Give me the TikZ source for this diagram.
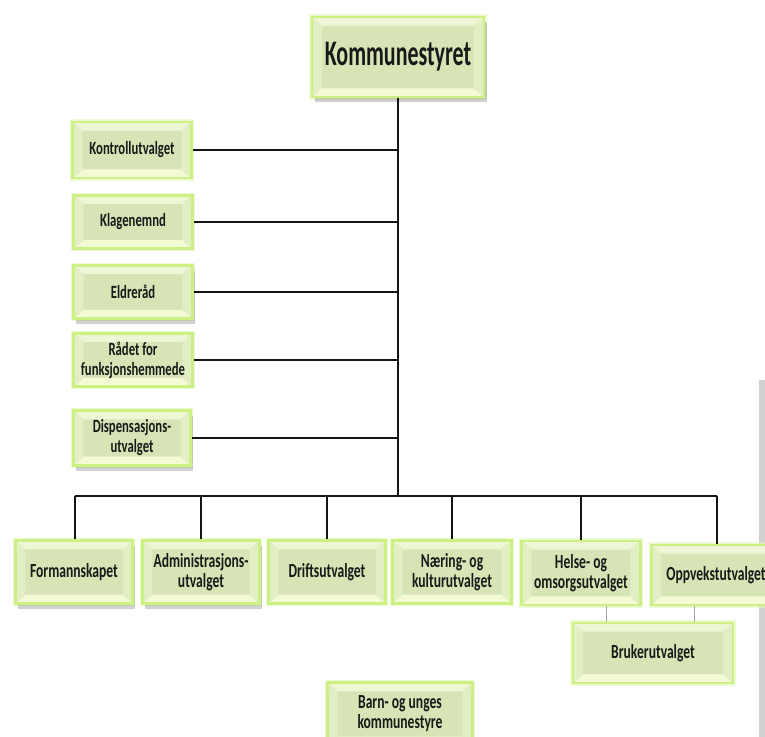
\documentclass[tikz,border=0pt]{standalone}
\usepackage{fontspec}
\setmainfont{Carlito}
\newfontfamily\condf[FakeStretch=0.68]{Carlito}
\newfontfamily\condbig[FakeStretch=0.61]{Carlito}
\usetikzlibrary{shadows}
\definecolor{glow}{RGB}{204,240,130}
\definecolor{basegreen}{RGB}{214,228,182}
\definecolor{toplight}{RGB}{238,246,214}
\definecolor{botlight}{RGB}{244,250,212}
\definecolor{sidegreen}{RGB}{226,238,196}
\definecolor{txt}{RGB}{25,25,25}
\definecolor{connline}{RGB}{20,20,20}
\tikzset{
  bevbox/.style={draw=glow, line width=2pt, fill=basegreen, inner sep=0pt,
    preaction={draw=glow!60, line width=4pt, opacity=0.6},
    align=center, text=txt, font=\condf\bfseries\fontsize{14}{15}\selectfont,
    path picture={
      \path (path picture bounding box.south west) coordinate (bbsw)
            (path picture bounding box.north east) coordinate (bbne);
      \fill[toplight] (bbsw|-bbne) -- (bbne) -- ([xshift=-7.5pt,yshift=-6.5pt]bbne) -- ([xshift=7.5pt,yshift=-6.5pt]bbsw|-bbne) -- cycle;
      \fill[botlight] (bbsw) -- (bbsw-|bbne) -- ([xshift=-7.5pt,yshift=6.5pt]bbsw-|bbne) -- ([xshift=7.5pt,yshift=6.5pt]bbsw) -- cycle;
      \fill[sidegreen] (bbsw) -- (bbsw|-bbne) -- ([xshift=7.5pt,yshift=-6.5pt]bbsw|-bbne) -- ([xshift=7.5pt,yshift=6.5pt]bbsw) -- cycle;
      \fill[sidegreen] (bbsw-|bbne) -- (bbne) -- ([xshift=-7.5pt,yshift=-6.5pt]bbne) -- ([xshift=-7.5pt,yshift=6.5pt]bbsw-|bbne) -- cycle;
    }},
  shad/.style={drop shadow={shadow xshift=2pt, shadow yshift=-4pt, opacity=0.3, fill=black!60}},
  bigtext/.style={font=\condbig\bfseries\fontsize{27}{30}\selectfont},
  bottext/.style={font=\condf\bfseries\fontsize{15}{15}\selectfont},
  conn/.style={draw=connline, line width=0.9pt},
  subconn/.style={draw=black!35, line width=0.6pt}
}
\begin{document}
\begin{tikzpicture}[x=0.75pt,y=-0.75pt]
\useasboundingbox (0,0) rectangle (765,737);
\clip (0,0) rectangle (765,737);
% right gray bar
\fill[black!18] (759,380) rectangle (765,737);
% top
\node[bevbox, bigtext, shad, minimum width=129pt, minimum height=60pt] (ks) at (398,57) {Kommunestyret};
% left column
\node[bevbox, minimum width=89pt, minimum height=42pt] (kon) at (132,150) {Kontrollutvalget};
\node[bevbox, minimum width=89pt, minimum height=40pt] (kla) at (133,222) {Klagenemnd};
\node[bevbox, shad, minimum width=89pt, minimum height=40pt] (eld) at (133,292) {Eldreråd};
\node[bevbox, minimum width=89pt, minimum height=40pt] (rad) at (133,360) {Rådet for\\funksjonshemmede};
\node[bevbox, shad, minimum width=88pt, minimum height=41pt] (dis) at (132,438) {Dispensasjons-\\utvalget};
% bottom row
\node[bevbox, bottext, shad, minimum width=88pt, minimum height=47pt] (for) at (74,572) {Formannskapet};
\node[bevbox, bottext, shad, minimum width=88pt, minimum height=47pt] (adm) at (201,572) {Administrasjons-\\utvalget};
\node[bevbox, bottext, minimum width=88pt, minimum height=47pt] (dri) at (327,572) {Driftsutvalget};
\node[bevbox, bottext, minimum width=89pt, minimum height=47pt] (nae) at (452,572) {Næring- og\\kulturutvalget};
\node[bevbox, bottext, minimum width=89pt, minimum height=48pt] (hel) at (581,573) {Helse- og\\omsorgsutvalget};
\node[bevbox, bottext, minimum width=97pt, minimum height=45pt] (opp) at (716,575) {Oppvekstutvalget};
\node[bevbox, bottext, minimum width=120pt, minimum height=45pt] (bru) at (653,653) {Brukerutvalget};
\node[bevbox, bottext, minimum width=109pt, minimum height=47pt] (bar) at (400,714) {Barn- og unges\\kommunestyre};
% connectors
\coordinate (trunk) at (398,496);
\coordinate (barl) at (75,496);
\coordinate (barr) at (717,496);
\draw[conn] (ks.south) -- (trunk);
\draw[conn] (kon.east) -- (kon.east -| trunk);
\draw[conn] (kla.east) -- (kla.east -| trunk);
\draw[conn] (eld.east) -- (eld.east -| trunk);
\draw[conn] (rad.east) -- (rad.east -| trunk);
\draw[conn] (dis.east) -- (dis.east -| trunk);
\draw[conn] (barl) -- (barr);
\draw[conn] (barl) -- (barl |- for.north);
\draw[conn] (adm.north |- trunk) -- (adm.north);
\draw[conn] (dri.north |- trunk) -- (dri.north);
\draw[conn] (nae.north |- trunk) -- (nae.north);
\draw[conn] (hel.north |- trunk) -- (hel.north);
\draw[conn] (barr) -- (barr |- opp.north);
\coordinate (b1) at (606,0);
\coordinate (b2) at (694,0);
\draw[subconn] (b1 |- hel.south) -- (b1 |- bru.north);
\draw[subconn] (b2 |- opp.south) -- (b2 |- bru.north);
\end{tikzpicture}
\end{document}
